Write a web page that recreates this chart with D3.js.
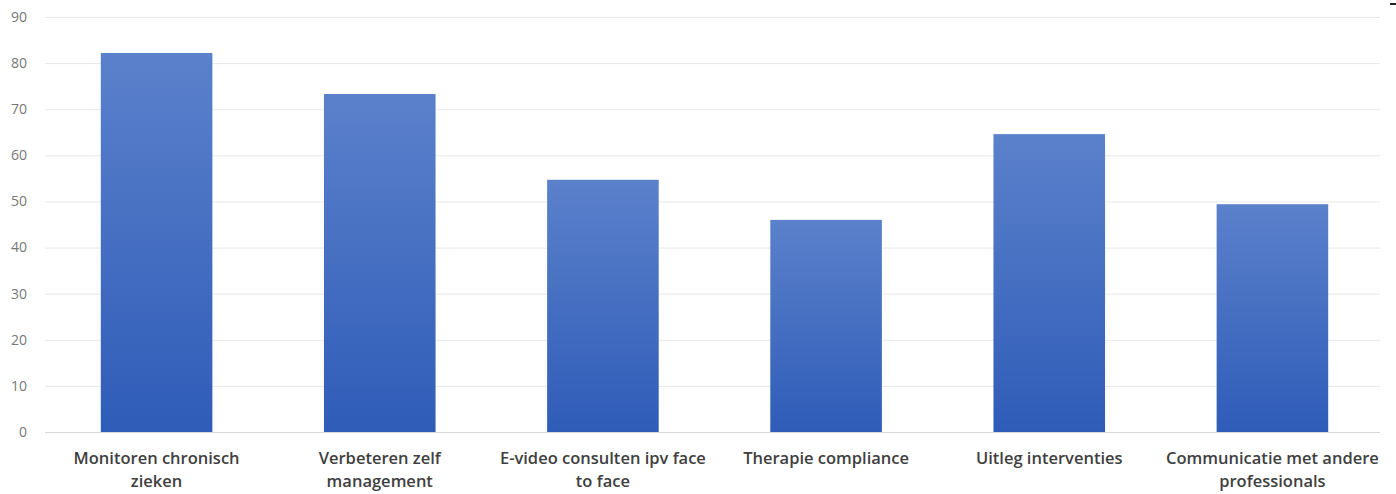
<!DOCTYPE html>
<html>
<head>
<meta charset="utf-8">
<script src="https://cdn.jsdelivr.net/npm/d3@7"></script>
<style>
  html, body { margin: 0; padding: 0; background: #fff; }
  svg { display: block; }
</style>
</head>
<body>
<script>
const width = 1396;
const height = 494;

// data
const categories = [
    "Monitoren chronisch zieken",
    "Verbeteren zelf management",
    "E-video consulten ipv face to face",
    "Therapie compliance",
    "Uitleg interventies",
    "Communicatie met andere professionals"
];
const labelLines = [
    ["Monitoren chronisch", "zieken"],
    ["Verbeteren zelf", "management"],
    ["E-video consulten ipv face", "to face"],
    ["Therapie compliance"],
    ["Uitleg interventies"],
    ["Communicatie met andere", "professionals"]
];
const values = [82.2, 73.3, 54.7, 46.0, 64.6, 49.4];
const yTicks = [0, 10, 20, 30, 40, 50, 60, 70, 80, 90];

const svg = d3.select("body")
    .append("svg")
    .attr("width", width)
    .attr("height", height);

const defs = svg.append("defs");
const grad = defs.append("linearGradient")
    .attr("id", "barGrad")
    .attr("x1", 0).attr("y1", 0)
    .attr("x2", 0).attr("y2", 1);
grad.append("stop").attr("offset", "0%").attr("stop-color", "#5b81cb");
grad.append("stop").attr("offset", "100%").attr("stop-color", "#2f5cb8");

const x = d3.scaleBand()
    .domain(categories)
    .range([45, 1384])
    .paddingInner(0.5)
    .paddingOuter(0.25);

const y = d3.scaleLinear()
    .domain([0, 90])
    .range([432, 17]);

// gridlines
svg.append("g")
    .selectAll("line")
    .data(yTicks)
    .join("line")
    .attr("x1", 45)
    .attr("x2", 1380)
    .attr("y1", d => y(d) + 0.5)
    .attr("y2", d => y(d) + 0.5)
    .attr("stroke", d => d === 0 ? "#d6d6d6" : "#e8e8e8")
    .attr("stroke-width", 1);

// y tick labels
svg.append("g")
    .selectAll("text")
    .data(yTicks)
    .join("text")
    .attr("x", 27)
    .attr("y", d => y(d))
    .attr("dy", "0.35em")
    .attr("text-anchor", "end")
    .attr("font-family", "Open Sans, sans-serif")
    .attr("font-size", 14)
    .attr("fill", "#777")
    .text(d => d);

// bars
svg.append("g")
    .selectAll("rect")
    .data(values)
    .join("rect")
    .attr("x", (d, i) => x(categories[i]))
    .attr("width", x.bandwidth())
    .attr("y", d => y(d))
    .attr("height", d => y(0) - y(d))
    .attr("fill", "url(#barGrad)");

// category labels
const labels = svg.append("g")
    .selectAll("text")
    .data(categories)
    .join("text")
    .attr("x", d => x(d) + x.bandwidth() / 2)
    .attr("y", 464)
    .attr("text-anchor", "middle")
    .attr("font-family", "Open Sans, sans-serif")
    .attr("font-size", 16.5)
    .attr("font-weight", 600)
    .attr("fill", "#404040");

labels.each(function(d, i) {
    d3.select(this).selectAll("tspan")
        .data(labelLines[i])
        .join("tspan")
        .attr("x", x(d) + x.bandwidth() / 2)
        .attr("dy", (l, j) => j === 0 ? 0 : 23)
        .text(l => l);
});

// small artifact at top right corner
svg.append("rect")
    .attr("x", 1390).attr("y", 3)
    .attr("width", 6).attr("height", 2)
    .attr("fill", "#222");
</script>
</body>
</html>
